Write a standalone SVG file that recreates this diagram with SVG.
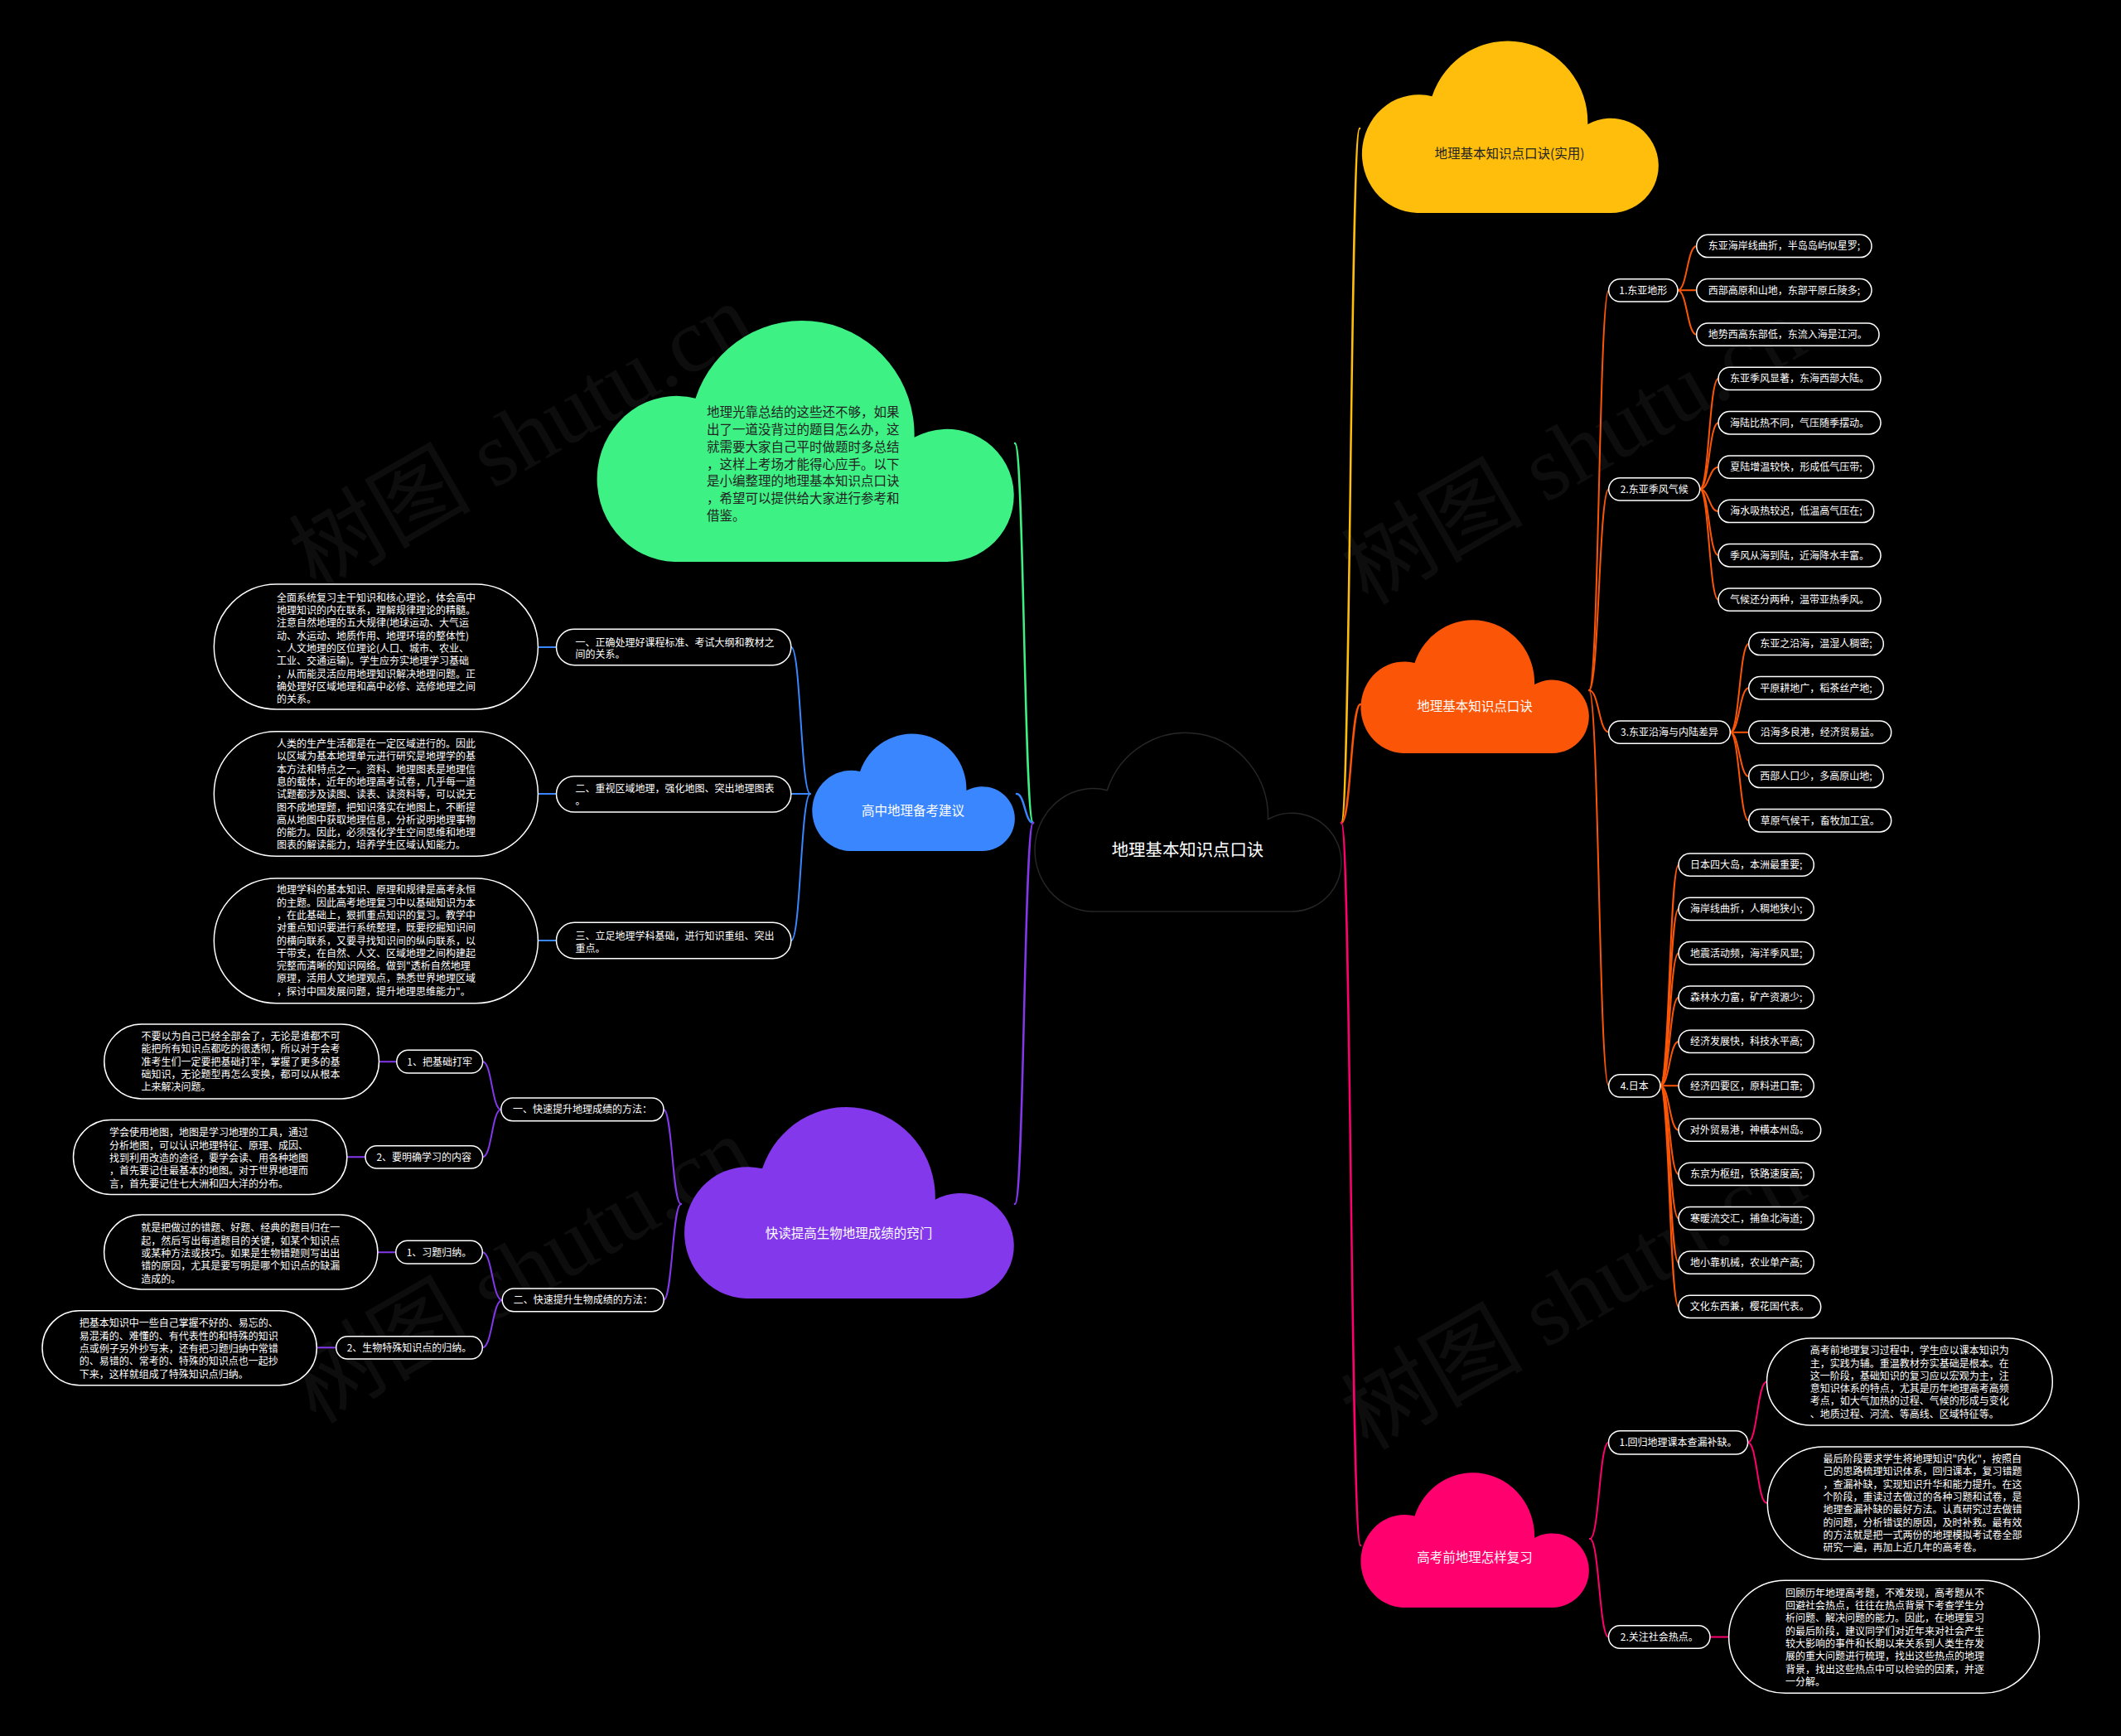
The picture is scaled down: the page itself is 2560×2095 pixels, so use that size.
<svg xmlns="http://www.w3.org/2000/svg" xmlns:xlink="http://www.w3.org/1999/xlink" width="2560" height="2095" viewBox="0 0 2560 2095">
<style>
.t{font-family:"Noto Sans CJK SC","Noto Sans",sans-serif;fill:#fff}
.s12{font-size:12px}
.s15{font-size:15.5px}
.dk{fill:#222}
.m{text-anchor:middle}
.box{fill:#000;stroke:#fff;stroke-width:1.5}
.c{fill:none;stroke-linecap:round}
.main{stroke-width:2.5}
.sub{stroke-width:2}
.or{stroke:#FB5607}
.pk{stroke:#FF006E}
.bl{stroke:#3A86FF}
.pu{stroke:#8338EC}
.ye{stroke:#FFBE0B}
.gr{stroke:#3EF184}
.wm{font-family:"Liberation Serif","Noto Sans CJK SC",serif;font-size:110px;fill:#fff;opacity:0.05;text-anchor:middle}
</style>
<defs>
<path id="cloud" d="M190,1000 A190,350 0 1 1 240,310 A268,480 0 0 1 762,475 A160,280 0 1 1 840,1000 Z"/>
</defs>
<rect width="2560" height="2095" fill="#000"/>

<g id="watermarks">
<text class="wm" transform="translate(648,560) rotate(-30)">树图 shutu.cn</text>
<text class="wm" transform="translate(1918,577) rotate(-30)">树图 shutu.cn</text>
<text class="wm" transform="translate(648,1565) rotate(-30)">树图 shutu.cn</text>
<text class="wm" transform="translate(1918,1597) rotate(-30)">树图 shutu.cn</text>
</g>

<g id="connectors">
<path class="c main gr" d="M1247,993 C1236,993 1236,535 1225,535"/>
<path class="c main bl" d="M1247,993 C1237,993 1237,958 1227,958"/>
<path class="c main pu" d="M1247,993 C1236,993 1236,1453 1225,1453"/>
<path class="c main ye" d="M1619,993 C1630,993 1630,155 1641,155"/>
<path class="c main or" d="M1619,993 C1630.5,993 1630.5,850 1642,850"/>
<path class="c main pk" d="M1619,993 C1630.5,993 1630.5,1865 1642,1865"/>

<path class="c sub or" d="M1918,833 C1929.85,833 1929.85,350.3 1941.7,350.3"/>
<path class="c sub or" d="M1918,833 C1929.85,833 1929.85,590.3 1941.7,590.3"/>
<path class="c sub or" d="M1918,833 C1929.85,833 1929.85,883.65 1941.7,883.65"/>
<path class="c sub or" d="M1918,833 C1929.85,833 1929.85,1310.3 1941.7,1310.3"/>

<path class="c sub or" d="M2025,350.3 C2036.35,350.3 2036.35,297 2047.7,297"/>
<path class="c sub or" d="M2025,350.3 L2047.7,350.3"/>
<path class="c sub or" d="M2025,350.3 C2036.35,350.3 2036.35,403.65 2047.7,403.65"/>

<path class="c sub or" d="M2051.7,590.3 C2062.85,590.3 2062.85,457 2074,457"/>
<path class="c sub or" d="M2051.7,590.3 C2062.85,590.3 2062.85,510.3 2074,510.3"/>
<path class="c sub or" d="M2051.7,590.3 C2062.85,590.3 2062.85,563.65 2074,563.65"/>
<path class="c sub or" d="M2051.7,590.3 C2062.85,590.3 2062.85,617 2074,617"/>
<path class="c sub or" d="M2051.7,590.3 C2062.85,590.3 2062.85,670.3 2074,670.3"/>
<path class="c sub or" d="M2051.7,590.3 C2062.85,590.3 2062.85,723.65 2074,723.65"/>

<path class="c sub or" d="M2088.3,883.65 C2099.5,883.65 2099.5,777 2110.7,777"/>
<path class="c sub or" d="M2088.3,883.65 C2099.5,883.65 2099.5,830.3 2110.7,830.3"/>
<path class="c sub or" d="M2088.3,883.65 L2110.7,883.65"/>
<path class="c sub or" d="M2088.3,883.65 C2099.5,883.65 2099.5,937 2110.7,937"/>
<path class="c sub or" d="M2088.3,883.65 C2099.5,883.65 2099.5,990.3 2110.7,990.3"/>

<path class="c sub or" d="M2004,1310.3 C2015,1310.3 2015,1043.65 2026,1043.65"/>
<path class="c sub or" d="M2004,1310.3 C2015,1310.3 2015,1097 2026,1097"/>
<path class="c sub or" d="M2004,1310.3 C2015,1310.3 2015,1150.3 2026,1150.3"/>
<path class="c sub or" d="M2004,1310.3 C2015,1310.3 2015,1203.65 2026,1203.65"/>
<path class="c sub or" d="M2004,1310.3 C2015,1310.3 2015,1257 2026,1257"/>
<path class="c sub or" d="M2004,1310.3 L2026,1310.3"/>
<path class="c sub or" d="M2004,1310.3 C2015,1310.3 2015,1363.65 2026,1363.65"/>
<path class="c sub or" d="M2004,1310.3 C2015,1310.3 2015,1417 2026,1417"/>
<path class="c sub or" d="M2004,1310.3 C2015,1310.3 2015,1470.3 2026,1470.3"/>
<path class="c sub or" d="M2004,1310.3 C2015,1310.3 2015,1523.65 2026,1523.65"/>
<path class="c sub or" d="M2004,1310.3 C2015,1310.3 2015,1577 2026,1577"/>

<path class="c sub pk" d="M1919,1857 C1930.25,1857 1930.25,1740.8 1941.5,1740.8"/>
<path class="c sub pk" d="M1919,1857 C1930.25,1857 1930.25,1975.5 1941.5,1975.5"/>
<path class="c sub pk" d="M2109.6,1740.8 C2121.05,1740.8 2121.05,1667.5 2132.5,1667.5"/>
<path class="c sub pk" d="M2109.6,1740.8 C2121.05,1740.8 2121.05,1813.8 2132.5,1813.8"/>
<path class="c sub pk" d="M2064,1975.5 L2086.6,1975.5"/>

<path class="c sub bl" d="M978,958 C966.5,958 966.5,781 955,781"/>
<path class="c sub bl" d="M978,958 L955,958"/>
<path class="c sub bl" d="M978,958 C966.5,958 966.5,1135 955,1135"/>
<path class="c sub bl" d="M671.5,781 L649.4,781"/>
<path class="c sub bl" d="M671.5,958 L649.4,958"/>
<path class="c sub bl" d="M671.5,1135 L649.4,1135"/>

<path class="c sub pu" d="M822,1453 C811.5,1453 811.5,1339 801,1339"/>
<path class="c sub pu" d="M822,1453 C811.5,1453 811.5,1569 801,1569"/>
<path class="c sub pu" d="M604.8,1339 C593.7,1339 593.7,1281.2 582.6,1281.2"/>
<path class="c sub pu" d="M604.8,1339 C593.7,1339 593.7,1396.3 582.6,1396.3"/>
<path class="c sub pu" d="M478.8,1281.2 L457.5,1281.2"/>
<path class="c sub pu" d="M441,1396.3 L418.8,1396.3"/>
<path class="c sub pu" d="M606.2,1569 C594.25,1569 594.25,1511.2 582.3,1511.2"/>
<path class="c sub pu" d="M606.2,1569 C594.25,1569 594.25,1626.3 582.3,1626.3"/>
<path class="c sub pu" d="M477.8,1511.2 L455.9,1511.2"/>
<path class="c sub pu" d="M405.7,1626.3 L382.3,1626.3"/>
</g>

<g id="root">
<path d="M1317.7,1100 A70.7,74.2 0 1 1 1336.3,953.7 A99.7,101.8 0 0 1 1530.5,988.7 A59.5,59.4 0 1 1 1559.5,1100 Z" fill="#000" stroke="#262626" stroke-width="1.5"/>
<text class="t m" x="1433.5" y="1032.5" style="font-size:20.4px">地理基本知识点口诀</text>
</g>

<g id="cloud-yellow">
<use href="#cloud" xlink:href="#cloud" fill="#FFBE0B" transform="translate(1642,53) scale(0.36,0.204)"/>
<text class="t s15 dk m" x="1822" y="190.7">地理基本知识点口诀(实用)</text>
</g>
<g id="cloud-orange">
<use href="#cloud" xlink:href="#cloud" fill="#FB5607" transform="translate(1641,751) scale(0.277,0.158)"/>
<text class="t s15 m" x="1780" y="857.7">地理基本知识点口诀</text>
</g>
<g id="cloud-pink">
<use href="#cloud" xlink:href="#cloud" fill="#FF006E" transform="translate(1641,1780) scale(0.277,0.16)"/>
<text class="t s15 m" x="1780" y="1884.7">高考前地理怎样复习</text>
</g>
<g id="cloud-green">
<use href="#cloud" xlink:href="#cloud" fill="#3EF184" transform="translate(718,392) scale(0.506,0.286)"/>
<text class="t s15 dk"><tspan x="853" y="503">地理光靠总结的这些还不够，如果</tspan><tspan x="853" y="523.8">出了一道没背过的题目怎么办，这</tspan><tspan x="853" y="544.7">就需要大家自己平时做题时多总结</tspan><tspan x="853" y="565.5">，这样上考场才能得心应手。以下</tspan><tspan x="853" y="586.3">是小编整理的地理基本知识点口诀</tspan><tspan x="853" y="607.2">，希望可以提供给大家进行参考和</tspan><tspan x="853" y="628">借鉴。</tspan></text>
</g>
<g id="cloud-blue">
<use href="#cloud" xlink:href="#cloud" fill="#3A86FF" transform="translate(979,888) scale(0.246,0.139)"/>
<text class="t s15 m" x="1102" y="983.7">高中地理备考建议</text>
</g>
<g id="cloud-purple">
<use href="#cloud" xlink:href="#cloud" fill="#8338EC" transform="translate(824,1340) scale(0.4,0.227)"/>
<text class="t s15 m" x="1024.5" y="1493.7">快读提高生物地理成绩的窍门</text>
</g>

<g id="o1"><rect class="box" x="1941.7" y="336.7" width="83.3" height="27.3" rx="13.65"/><text class="t s12 m" x="1983.35" y="354.7">1.东亚地形</text></g>
<g id="o2"><rect class="box" x="1941.7" y="576.7" width="110" height="27.3" rx="13.65"/><text class="t s12 m" x="1996.7" y="594.7">2.东亚季风气候</text></g>
<g id="o3"><rect class="box" x="1941.7" y="870" width="146.6" height="27.3" rx="13.65"/><text class="t s12 m" x="2015" y="888.1">3.东亚沿海与内陆差异</text></g>
<g id="o4"><rect class="box" x="1941.7" y="1296.7" width="62.3" height="27.3" rx="13.65"/><text class="t s12 m" x="1972.85" y="1314.7">4.日本</text></g>

<g id="l0"><rect class="box" x="2047.7" y="283.3" width="211.3" height="27.3" rx="13.65"/><text class="t s12 m" x="2153.35" y="301.4">东亚海岸线曲折，半岛岛屿似星罗;</text></g>
<g id="l1"><rect class="box" x="2047.7" y="336.6" width="211.3" height="27.3" rx="13.65"/><text class="t s12 m" x="2153.35" y="354.7">西部高原和山地，东部平原丘陵多;</text></g>
<g id="l2"><rect class="box" x="2047.7" y="390" width="220.3" height="27.3" rx="13.65"/><text class="t s12 m" x="2157.85" y="408.1">地势西高东部低，东流入海是江河。</text></g>
<g id="l3"><rect class="box" x="2074" y="443.3" width="196" height="27.3" rx="13.65"/><text class="t s12 m" x="2172" y="461.4">东亚季风显著，东海西部大陆。</text></g>
<g id="l4"><rect class="box" x="2074" y="496.6" width="196" height="27.3" rx="13.65"/><text class="t s12 m" x="2172" y="514.7">海陆比热不同，气压随季摆动。</text></g>
<g id="l5"><rect class="box" x="2074" y="550" width="187.7" height="27.3" rx="13.65"/><text class="t s12 m" x="2167.85" y="568.1">夏陆增温较快，形成低气压带;</text></g>
<g id="l6"><rect class="box" x="2074" y="603.3" width="187.7" height="27.3" rx="13.65"/><text class="t s12 m" x="2167.85" y="621.4">海水吸热较迟，低温高气压在;</text></g>
<g id="l7"><rect class="box" x="2074" y="656.6" width="196" height="27.3" rx="13.65"/><text class="t s12 m" x="2172" y="674.7">季风从海到陆，近海降水丰富。</text></g>
<g id="l8"><rect class="box" x="2074" y="710" width="196" height="27.3" rx="13.65"/><text class="t s12 m" x="2172" y="728.1">气候还分两种，温带亚热季风。</text></g>
<g id="l9"><rect class="box" x="2110.7" y="763.3" width="162.6" height="27.3" rx="13.65"/><text class="t s12 m" x="2192" y="781.4">东亚之沿海，温湿人稠密;</text></g>
<g id="l10"><rect class="box" x="2110.7" y="816.6" width="162.6" height="27.3" rx="13.65"/><text class="t s12 m" x="2192" y="834.7">平原耕地广，稻茶丝产地;</text></g>
<g id="l11"><rect class="box" x="2110.7" y="870" width="172" height="27.3" rx="13.65"/><text class="t s12 m" x="2196.7" y="888.1">沿海多良港，经济贸易益。</text></g>
<g id="l12"><rect class="box" x="2110.7" y="923.3" width="162.6" height="27.3" rx="13.65"/><text class="t s12 m" x="2192" y="941.4">西部人口少，多高原山地;</text></g>
<g id="l13"><rect class="box" x="2110.7" y="976.6" width="172" height="27.3" rx="13.65"/><text class="t s12 m" x="2196.7" y="994.7">草原气候干，畜牧加工宜。</text></g>
<g id="l14"><rect class="box" x="2026" y="1030" width="163.3" height="27.3" rx="13.65"/><text class="t s12 m" x="2107.65" y="1048.1">日本四大岛，本洲最重要;</text></g>
<g id="l15"><rect class="box" x="2026" y="1083.3" width="163.3" height="27.3" rx="13.65"/><text class="t s12 m" x="2107.65" y="1101.4">海岸线曲折，人稠地狭小;</text></g>
<g id="l16"><rect class="box" x="2026" y="1136.6" width="163.3" height="27.3" rx="13.65"/><text class="t s12 m" x="2107.65" y="1154.7">地震活动频，海洋季风显;</text></g>
<g id="l17"><rect class="box" x="2026" y="1190" width="163.3" height="27.3" rx="13.65"/><text class="t s12 m" x="2107.65" y="1208.1">森林水力富，矿产资源少;</text></g>
<g id="l18"><rect class="box" x="2026" y="1243.3" width="163.3" height="27.3" rx="13.65"/><text class="t s12 m" x="2107.65" y="1261.4">经济发展快，科技水平高;</text></g>
<g id="l19"><rect class="box" x="2026" y="1296.6" width="163.3" height="27.3" rx="13.65"/><text class="t s12 m" x="2107.65" y="1314.7">经济四要区，原料进口靠;</text></g>
<g id="l20"><rect class="box" x="2026" y="1350" width="171.7" height="27.3" rx="13.65"/><text class="t s12 m" x="2111.85" y="1368.1">对外贸易港，神横本州岛。</text></g>
<g id="l21"><rect class="box" x="2026" y="1403.3" width="163.3" height="27.3" rx="13.65"/><text class="t s12 m" x="2107.65" y="1421.4">东京为枢纽，铁路速度高;</text></g>
<g id="l22"><rect class="box" x="2026" y="1456.6" width="163.3" height="27.3" rx="13.65"/><text class="t s12 m" x="2107.65" y="1474.7">寒暖流交汇，捕鱼北海道;</text></g>
<g id="l23"><rect class="box" x="2026" y="1510" width="163.3" height="27.3" rx="13.65"/><text class="t s12 m" x="2107.65" y="1528.1">地小靠机械，农业单产高;</text></g>
<g id="l24"><rect class="box" x="2026" y="1563.3" width="171.7" height="27.3" rx="13.65"/><text class="t s12 m" x="2111.85" y="1581.4">文化东西兼，樱花国代表。</text></g>

<g id="p1"><rect class="box" x="1941.5" y="1726.7" width="168.1" height="28.3" rx="14.15"/><text class="t s12 m" x="2025.55" y="1745.2">1.回归地理课本查漏补缺。</text></g>
<g id="p2"><rect class="box" x="1941.5" y="1961.7" width="122.5" height="27.6" rx="13.8"/><text class="t s12 m" x="2002.75" y="1979.9">2.关注社会热点。</text></g>
<g id="pA"><rect class="box" x="2132.5" y="1615" width="344.8" height="105" rx="52.5"/><text class="t s12"><tspan x="2184.7" y="1634.25">高考前地理复习过程中，学生应以课本知识为</tspan><tspan x="2184.7" y="1649.55">主，实践为辅。重温教材夯实基础是根本。在</tspan><tspan x="2184.7" y="1664.85">这一阶段，基础知识的复习应以宏观为主，注</tspan><tspan x="2184.7" y="1680.15">意知识体系的特点，尤其是历年地理高考高频</tspan><tspan x="2184.7" y="1695.45">考点，如大气加热的过程、气候的形成与变化</tspan><tspan x="2184.7" y="1710.75">、地质过程、河流、等高线、区域特征等。</tspan></text></g>
<g id="pB"><rect class="box" x="2133.3" y="1746" width="375.7" height="135.7" rx="67.85"/><text class="t s12"><tspan x="2200.5" y="1765.15">最后阶段要求学生将地理知识"内化"，按照自</tspan><tspan x="2200.5" y="1780.45">己的思路梳理知识体系，回归课本，复习错题</tspan><tspan x="2200.5" y="1795.75">，查漏补缺，实现知识升华和能力提升。在这</tspan><tspan x="2200.5" y="1811.05">个阶段，重读过去做过的各种习题和试卷，是</tspan><tspan x="2200.5" y="1826.35">地理查漏补缺的最好方法。认真研究过去做错</tspan><tspan x="2200.5" y="1841.65">的问题，分析错误的原因，及时补救。最有效</tspan><tspan x="2200.5" y="1856.95">的方法就是把一式两份的地理模拟考试卷全部</tspan><tspan x="2200.5" y="1872.25">研究一遍，再加上近几年的高考卷。</tspan></text></g>
<g id="pC"><rect class="box" x="2086.6" y="1907.3" width="374.9" height="136" rx="68"/><text class="t s12"><tspan x="2155" y="1926.85">回顾历年地理高考题，不难发现，高考题从不</tspan><tspan x="2155" y="1942.15">回避社会热点，往往在热点背景下考查学生分</tspan><tspan x="2155" y="1957.45">析问题、解决问题的能力。因此，在地理复习</tspan><tspan x="2155" y="1972.75">的最后阶段，建议同学们对近年来对社会产生</tspan><tspan x="2155" y="1988.05">较大影响的事件和长期以来关系到人类生存发</tspan><tspan x="2155" y="2003.35">展的重大问题进行梳理，找出这些热点的地理</tspan><tspan x="2155" y="2018.65">背景，找出这些热点中可以检验的因素，并逐</tspan><tspan x="2155" y="2033.95">一分解。</tspan></text></g>

<g id="b1"><rect class="box" x="671.5" y="759.3" width="283.3" height="43.4" rx="21.7"/><text class="t s12"><tspan x="694.4" y="779.5">一、正确处理好课程标准、考试大纲和教材之</tspan><tspan x="694.4" y="794">间的关系。</tspan></text></g>
<g id="b2"><rect class="box" x="671.5" y="936.7" width="283.3" height="43.3" rx="21.65"/><text class="t s12"><tspan x="694.4" y="956.2">二、重视区域地理，强化地图、突出地理图表</tspan><tspan x="694.4" y="971">。</tspan></text></g>
<g id="b3"><rect class="box" x="671.5" y="1113.3" width="283.3" height="43.4" rx="21.7"/><text class="t s12"><tspan x="694.4" y="1133.8">三、立足地理学科基础，进行知识重组、突出</tspan><tspan x="694.4" y="1148.5">重点。</tspan></text></g>
<g id="b1t"><rect class="box" x="258.3" y="705" width="391.1" height="151" rx="75.5"/><text class="t s12"><tspan x="334" y="725.8">全面系统复习主干知识和核心理论，体会高中</tspan><tspan x="334" y="741.1">地理知识的内在联系，理解规律理论的精髓。</tspan><tspan x="334" y="756.4">注意自然地理的五大规律(地球运动、大气运</tspan><tspan x="334" y="771.7">动、水运动、地质作用、地理环境的整体性)</tspan><tspan x="334" y="787">、人文地理的区位理论(人口、城市、农业、</tspan><tspan x="334" y="802.3">工业、交通运输)。学生应夯实地理学习基础</tspan><tspan x="334" y="817.6">，从而能灵活应用地理知识解决地理问题。正</tspan><tspan x="334" y="832.9">确处理好区域地理和高中必修、选修地理之间</tspan><tspan x="334" y="848.2">的关系。</tspan></text></g>
<g id="b2t"><rect class="box" x="258.3" y="882.7" width="391.1" height="150.6" rx="75.3"/><text class="t s12"><tspan x="334" y="902">人类的生产生活都是在一定区域进行的。因此</tspan><tspan x="334" y="917.3">以区域为基本地理单元进行研究是地理学的基</tspan><tspan x="334" y="932.6">本方法和特点之一。资料、地理图表是地理信</tspan><tspan x="334" y="947.9">息的载体，近年的地理高考试卷，几乎每一道</tspan><tspan x="334" y="963.2">试题都涉及读图、读表、读资料等，可以说无</tspan><tspan x="334" y="978.5">图不成地理题，把知识落实在地图上，不断提</tspan><tspan x="334" y="993.8">高从地图中获取地理信息，分析说明地理事物</tspan><tspan x="334" y="1009.1">的能力。因此，必须强化学生空间思维和地理</tspan><tspan x="334" y="1024.4">图表的解读能力，培养学生区域认知能力。</tspan></text></g>
<g id="b3t"><rect class="box" x="258.3" y="1060" width="391.1" height="150.7" rx="75.35"/><text class="t s12"><tspan x="334" y="1078.3">地理学科的基本知识、原理和规律是高考永恒</tspan><tspan x="334" y="1093.6">的主题。因此高考地理复习中以基础知识为本</tspan><tspan x="334" y="1108.9">，在此基础上，狠抓重点知识的复习。教学中</tspan><tspan x="334" y="1124.2">对重点知识要进行系统整理，既要挖掘知识间</tspan><tspan x="334" y="1139.5">的横向联系，又要寻找知识间的纵向联系，以</tspan><tspan x="334" y="1154.8">干带支，在自然、人文、区域地理之间构建起</tspan><tspan x="334" y="1170.1">完整而清晰的知识网络。做到"透析自然地理</tspan><tspan x="334" y="1185.4">原理，活用人文地理观点，熟悉世界地理区域</tspan><tspan x="334" y="1200.7">，探讨中国发展问题，提升地理思维能力"。</tspan></text></g>

<g id="u1"><rect class="box" x="604.8" y="1325" width="196.2" height="27.7" rx="13.85"/><text class="t s12 m" x="702.9" y="1343.3">一、快速提升地理成绩的方法：</text></g>
<g id="u11"><rect class="box" x="478.8" y="1267.3" width="103.8" height="27.7" rx="13.85"/><text class="t s12 m" x="530.7" y="1285.6">1、把基础打牢</text></g>
<g id="u12"><rect class="box" x="441" y="1382.7" width="141.6" height="27.3" rx="13.65"/><text class="t s12 m" x="511.8" y="1400.7">2、要明确学习的内容</text></g>
<g id="u2"><rect class="box" x="606.2" y="1555" width="195" height="27.7" rx="13.85"/><text class="t s12 m" x="703.7" y="1573.3">二、快速提升生物成绩的方法：</text></g>
<g id="u21"><rect class="box" x="477.8" y="1497.3" width="104.5" height="27.7" rx="13.85"/><text class="t s12 m" x="530" y="1515.6">1、习题归纳。</text></g>
<g id="u22"><rect class="box" x="405.7" y="1612.7" width="176.6" height="27.3" rx="13.65"/><text class="t s12 m" x="494" y="1630.7">2、生物特殊知识点的归纳。</text></g>
<g id="u11t"><rect class="box" x="125.8" y="1236" width="331.7" height="90" rx="45"/><text class="t s12"><tspan x="170.6" y="1254.9">不要以为自己已经全部会了，无论是谁都不可</tspan><tspan x="170.6" y="1270.2">能把所有知识点都吃的很透彻，所以对于会考</tspan><tspan x="170.6" y="1285.5">准考生们一定要把基础打牢，掌握了更多的基</tspan><tspan x="170.6" y="1300.8">础知识，无论题型再怎么变换，都可以从根本</tspan><tspan x="170.6" y="1316.1">上来解决问题。</tspan></text></g>
<g id="u12t"><rect class="box" x="88.5" y="1351.5" width="330.3" height="90" rx="45"/><text class="t s12"><tspan x="132" y="1371.4">学会使用地图，地图是学习地理的工具，通过</tspan><tspan x="132" y="1386.7">分析地图，可以认识地理特征、原理、成因、</tspan><tspan x="132" y="1402">找到利用改造的途径，要学会读、用各种地图</tspan><tspan x="132" y="1417.3">，首先要记住最基本的地图。对于世界地理而</tspan><tspan x="132" y="1432.6">言，首先要记住七大洲和四大洋的分布。</tspan></text></g>
<g id="u21t"><rect class="box" x="125.6" y="1466" width="330.3" height="90" rx="45"/><text class="t s12"><tspan x="170.3" y="1486.4">就是把做过的错题、好题、经典的题目归在一</tspan><tspan x="170.3" y="1501.7">起，然后写出每道题目的关键，如某个知识点</tspan><tspan x="170.3" y="1517">或某种方法或技巧。如果是生物错题则写出出</tspan><tspan x="170.3" y="1532.3">错的原因，尤其是要写明是哪个知识点的缺漏</tspan><tspan x="170.3" y="1547.6">造成的。</tspan></text></g>
<g id="u22t"><rect class="box" x="51" y="1581.7" width="331.3" height="90" rx="45"/><text class="t s12"><tspan x="95.7" y="1601.4">把基本知识中一些自己掌握不好的、易忘的、</tspan><tspan x="95.7" y="1616.7">易混淆的、难懂的、有代表性的和特殊的知识</tspan><tspan x="95.7" y="1632">点或例子另外抄写来，还有把习题归纳中常错</tspan><tspan x="95.7" y="1647.3">的、易错的、常考的、特殊的知识点也一起抄</tspan><tspan x="95.7" y="1662.6">下来，这样就组成了特殊知识点归纳。</tspan></text></g>
</svg>
